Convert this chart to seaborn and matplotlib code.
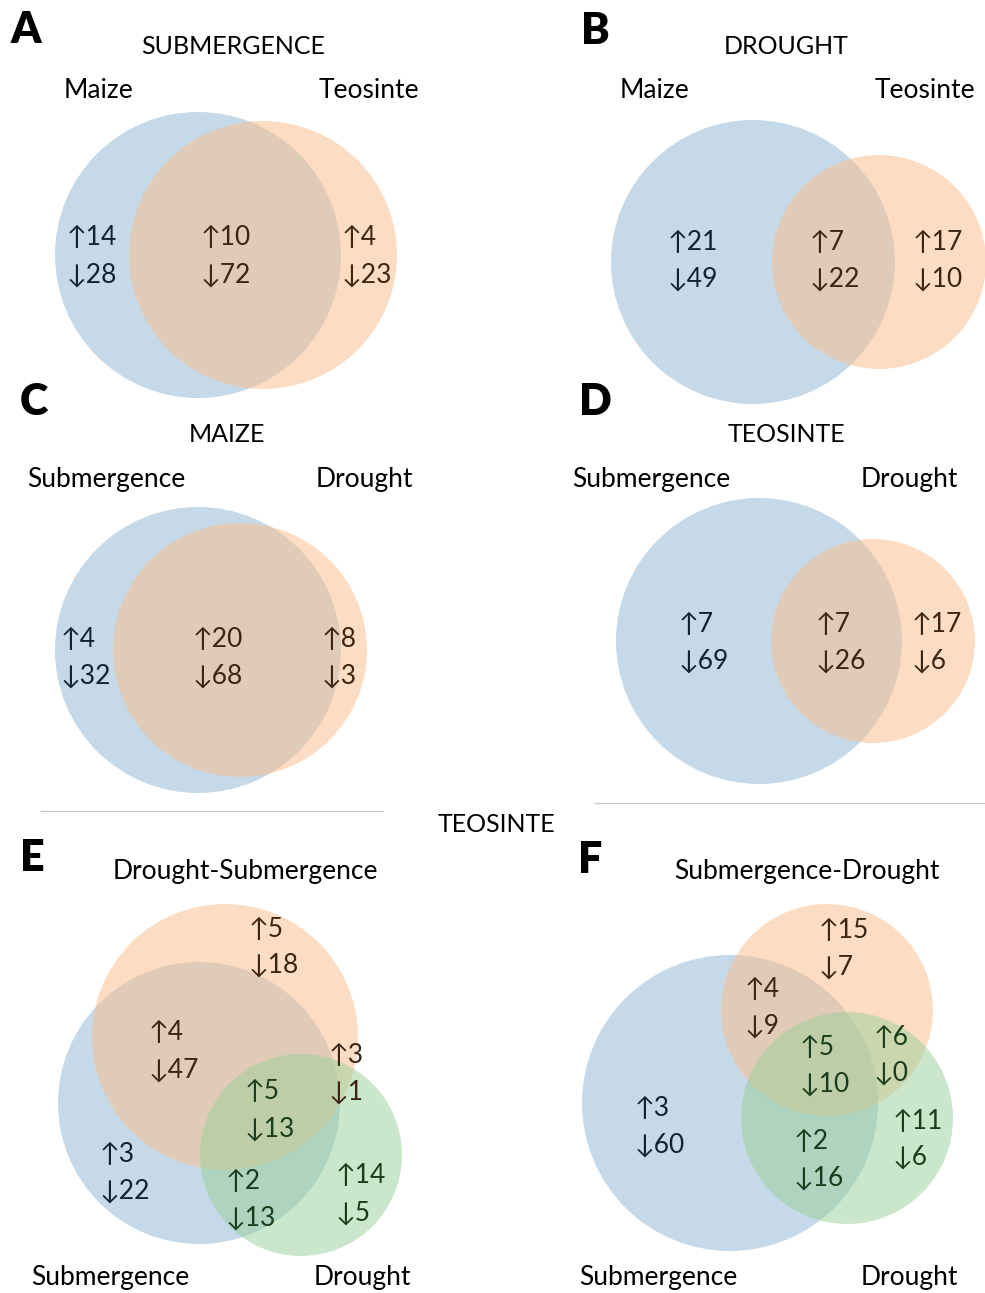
import matplotlib
matplotlib.use("Agg")
import matplotlib.pyplot as plt
from matplotlib.patches import Circle
import seaborn as sns

# Counts of up / down regulated genes per Venn region
# A: submergence, regions = maize only, both, teosinte only
a_up = [14, 10, 4]
a_down = [28, 72, 23]
# B: drought
b_up = [21, 7, 17]
b_down = [49, 22, 10]
# C: maize, regions = submergence only, both, drought only
c_up = [4, 20, 8]
c_down = [32, 68, 3]
# D: teosinte
d_up = [7, 7, 17]
d_down = [69, 26, 6]
# E: regions = orange only, blue&orange, orange&green, all three, blue&green, blue only, green only
e_up = [5, 4, 3, 5, 2, 3, 14]
e_down = [18, 47, 1, 13, 13, 22, 5]
# F: same region order
f_up = [15, 4, 6, 5, 2, 3, 11]
f_down = [7, 9, 0, 10, 16, 60, 6]

letters = ["A", "B", "C", "D", "E", "F"]
titles = ["SUBMERGENCE", "DROUGHT", "MAIZE", "TEOSINTE", "Drought-Submergence", "Submergence-Drought"]
set_labels = [["Maize", "Teosinte"], ["Maize", "Teosinte"],
              ["Submergence", "Drought"], ["Submergence", "Drought"],
              ["Submergence", "Drought"], ["Submergence", "Drought"]]

sns.set_theme(style="white")
plt.rcParams["font.family"] = ["Lato", "DejaVu Sans"]

blue, orange, green = "#8cb5d3", "#fbbd89", "#99d199"
txt_blue, txt_orange, txt_green = "#0e2435", "#3c2512", "#193d1c"

fig = plt.figure(figsize=(9.85, 12.93), dpi=100)
ax = fig.add_axes([0, 0, 1, 1])
ax.set_xlim(0, 985)
ax.set_ylim(1293, 0)
ax.set_aspect("equal")
ax.axis("off")

# circle layout (center x, center y, radius, colour) per panel
circles = {
    "A": [(198, 255, 143, blue), (263, 255, 134, orange)],
    "B": [(753, 262, 142, blue), (879, 262, 107, orange)],
    "C": [(198, 650, 143, blue), (240, 650, 127, orange)],
    "D": [(759, 641, 143, blue), (873, 641, 102, orange)],
    "E": [(199, 1103, 141, blue), (225, 1037, 133, orange), (301, 1155, 101, green)],
    "F": [(730, 1103, 148, blue), (827, 1010, 106, orange), (847, 1118, 106, green)],
}
for key, circs in circles.items():
    for cx, cy, r, col in circs:
        ax.add_patch(Circle((cx, cy), r, facecolor=col, edgecolor="none", alpha=0.5))

# count label anchors (left x, y of up line, y of down line, colour)
anchors = {
    "A": [(67, 236, 273, txt_blue), (201, 236, 273, txt_orange), (342, 236, 273, txt_orange)],
    "B": [(668, 241, 277, txt_blue), (810, 241, 277, txt_orange), (913, 241, 277, txt_orange)],
    "C": [(61, 638, 674, txt_blue), (193, 638, 674, txt_orange), (322, 638, 674, txt_orange)],
    "D": [(679, 623, 659, txt_blue), (816, 623, 659, txt_orange), (912, 623, 659, txt_orange)],
    "E": [(249, 928, 963, txt_orange), (149, 1031, 1068, txt_orange), (329, 1054, 1090, txt_orange),
          (245, 1090, 1127, txt_green), (226, 1180, 1216, txt_green), (100, 1153, 1189, txt_blue),
          (336, 1174, 1211, txt_green)],
    "F": [(819, 929, 965, txt_orange), (745, 988, 1024, txt_orange), (874, 1036, 1071, txt_green),
          (800, 1046, 1082, txt_green), (794, 1140, 1176, txt_green), (635, 1107, 1143, txt_blue),
          (893, 1120, 1155, txt_green)],
}
counts = {"A": (a_up, a_down), "B": (b_up, b_down), "C": (c_up, c_down),
          "D": (d_up, d_down), "E": (e_up, e_down), "F": (f_up, f_down)}

fs = 19
for key, regions in anchors.items():
    ups, downs = counts[key]
    for (x, y1, y2, col), u, d in zip(regions, ups, downs):
        ax.text(x, y1 + 2, f"\u2191{u}", ha="left", va="center", fontsize=fs, color=col)
        ax.text(x, y2 + 2, f"\u2193{d}", ha="left", va="center", fontsize=fs, color=col)

# panel letters, titles, set labels
letter_pos = [(26, 30), (595, 31), (34, 402), (595, 402), (32, 858), (590, 860)]
title_pos = [(233, 46), (786, 47), (227, 435), (786, 434), (245, 872), (807, 871)]
label_pos = [[(98, 91), (369, 91)], [(654, 90), (925, 90)],
             [(106, 479), (364, 479)], [(651, 479), (909, 479)],
             [(110, 1277), (362, 1277)], [(658, 1277), (909, 1277)]]
for i in range(6):
    ax.text(*letter_pos[i], letters[i], ha="center", va="center", fontsize=31,
            fontweight="heavy", color="black")
    tfs = 18 if titles[i].isupper() else fs
    ax.text(*title_pos[i], titles[i], ha="center", va="center", fontsize=tfs, color="black")
    for (x, y), lab in zip(label_pos[i], set_labels[i]):
        ax.text(x, y, lab, ha="center", va="center", fontsize=fs, color="black")

ax.text(496, 825, "TEOSINTE", ha="center", va="center", fontsize=18, color="black")
ax.plot([41, 383], [811, 811], color="#c8c8c8", lw=1)
ax.plot([594, 985], [803, 803], color="#c8c8c8", lw=1)

fig.savefig("out.png", dpi=100)
